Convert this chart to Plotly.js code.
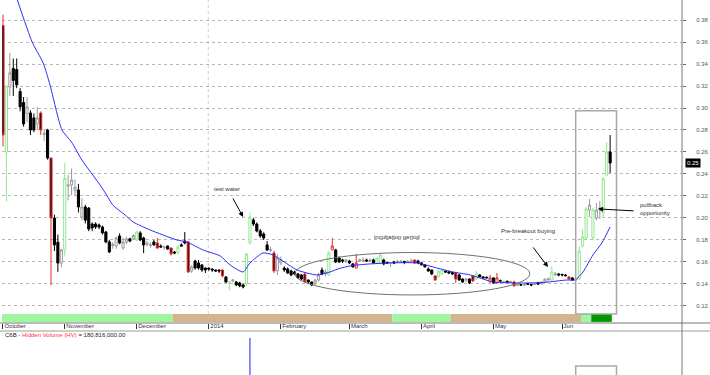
<!DOCTYPE html>
<html><head><meta charset="utf-8">
<script src="https://cdn.plot.ly/plotly-3.0.1.min.js"></script>
<style>html,body{margin:0;padding:0;background:#fff}#chart{width:710px;height:375px}</style>
</head><body><div id="chart"></div>
<script>
// ---- data (trading-day index 0 = first bar of October 2013) ----
const openP = [.375,.26,.319,.336,.335,.315,.305,.295,.2955,.291,.2855,.2955,.276,.28,.2545,.20,.178,.159,.171,.229,
.23,.225,.2255,.2009,.21,.209,.1945,.1945,.1936,.1918,.1873,.1782,.175,.1745,.1836,.1727,.178,.181,.181,.18,
.1864,.1818,.176,.175,.1782,.1773,.1745,.173,.1745,.1727,.1691,.1682,.1755,.1791,.1782,.1518,.1609,.1591,.1573,.1545,
.1545,.1536,.1527,.1527,.1527,.1464,.1409,.1427,.1418,.1409,.1391,.14,.1773,.1982,.1945,.1882,.1855,.1755,.1705,.1682,
.1518,.1591,.1545,.1536,.1518,.1509,.1491,.1482,.149,.1436,.1418,.1409,.1436,.1527,.1491,.1482,.1709,.1709,.1636,.1618,
.1609,.1609,.1582,.1545,.1609,.1609,.1618,.161,.1618,.1591,.1591,.1618,.1595,.1591,.16,.1595,.1595,.1605,.1595,.16,
.1618,.1609,.1591,.1573,.1536,.1527,.1473,.1464,.1491,.1518,.151,.1505,.15,.1482,.1445,.1436,.1445,.1473,.1445,.1482,
.1464,.146,.1418,.1455,.1409,.143,.1415,.1425,.1415,.1418,.1388,.1395,.1388,.1405,.1395,.1395,.1409,.14,.1418,.1436,
.1436,.1485,.1491,.1488,.1482,.1464,.1455,.1436,.1445,.1745,.1818,.2073,.182,.2,.2082,.2045,.2391,.26];
const highP = [.385,.32,.35,.345,.345,.318,.31,.31,.298,.295,.301,.297,.28,.281,.255,.203,.185,.172,.25,.239,
.245,.235,.231,.218,.212,.21,.196,.196,.195,.193,.188,.18,.178,.183,.186,.182,.183,.182,.185,.188,
.188,.183,.179,.178,.18,.1818,.176,.175,.175,.173,.17,.175,.177,.1873,.179,.157,.162,.1618,.158,.155,
.155,.154,.153,.153,.153,.147,.1418,.1445,.1427,.142,.14,.168,.205,.2,.196,.19,.187,.179,.174,.17,
.167,.165,.156,.155,.153,.152,.15,.149,.15,.144,.142,.1445,.15,.155,.153,.17,.182,.172,.165,.163,
.163,.162,.159,.1673,.163,.164,.163,.163,.163,.164,.1682,.163,.16,.16,.161,.162,.162,.161,.162,.163,
.162,.162,.16,.158,.155,.153,.148,.152,.153,.152,.152,.151,.151,.149,.145,.145,.145,.148,.152,.149,
.147,.147,.1482,.146,.15,.144,.143,.143,.143,.143,.14,.14,.14,.141,.14,.141,.142,.142,.145,.146,
.156,.151,.15,.149,.149,.147,.146,.145,.174,.19,.21,.2173,.209,.2136,.2155,.237,.2691,.2755];
const lowP = [.265,.215,.311,.311,.318,.297,.283,.287,.2755,.278,.28,.2755,.27,.253,.139,.17,.151,.155,.165,.216,
.221,.22,.205,.198,.195,.188,.188,.19,.19,.185,.177,.168,.172,.172,.176,.171,.176,.178,.18,.179,
.179,.168,.174,.173,.175,.172,.173,.171,.171,.166,.167,.167,.174,.176,.15,.15,.153,.153,.151,.15,
.152,.151,.151,.15,.146,.141,.134,.142,.138,.137,.136,.138,.176,.1927,.187,.182,.18,.17,.169,.15,
.1482,.157,.151,.149,.147,.148,.145,.143,.141,.14,.138,.1385,.142,.148,.147,.147,.1709,.159,.159,.159,
.159,.158,.155,.1545,.16,.16,.16,.16,.158,.158,.158,.157,.158,.1555,.158,.159,.159,.158,.159,.159,
.158,.158,.157,.155,.151,.148,.143,.146,.148,.15,.149,.148,.1409,.143,.141,.142,.14,.142,.144,.146,
.145,.145,.1418,.14,.1409,.142,.141,.141,.141,.138,.138,.1385,.138,.139,.138,.139,.139,.1395,.141,.143,
.143,.147,.147,.147,.147,.144,.143,.143,.144,.173,.18,.2009,.18,.198,.1991,.2009,.238,.2409];
const closeP = [.2755,.32,.332,.325,.321,.301,.2855,.301,.28,.28,.291,.28,.277,.2545,.20,.1755,.159,.171,.236,.23,
.2345,.228,.21,.21,.198,.19,.1909,.1918,.1918,.1864,.1782,.1691,.176,.1818,.1773,.1782,.181,.179,.184,.1873,
.18,.1755,.177,.1755,.1755,.1727,.1736,.1735,.1718,.1673,.1682,.1736,.1745,.1773,.1509,.1555,.1545,.1545,.1527,.1527,
.1536,.1527,.1518,.1518,.1473,.1418,.1418,.1436,.1391,.1382,.1373,.1673,.2009,.1945,.1882,.1836,.1818,.1709,.1712,.1518,
.1636,.1618,.1527,.15,.1482,.1491,.1455,.1445,.142,.1418,.1391,.1436,.1482,.1491,.1509,.1682,.1745,.16,.16,.1609,
.1618,.1591,.1555,.1591,.1618,.1618,.1609,.1618,.1591,.1636,.1664,.1582,.1591,.1595,.159,.1605,.1605,.1595,.1605,.161,
.1591,.1591,.1573,.1555,.1518,.1491,.1436,.1518,.1527,.1509,.15,.1491,.1445,.1436,.1418,.1445,.1409,.1427,.1491,.1464,
.1455,.1455,.1455,.1409,.1455,.1427,.142,.1418,.142,.1382,.1393,.139,.1393,.1398,.1391,.14,.14,.1418,.1445,.1445,
.1509,.149,.1482,.1482,.1475,.1445,.1436,.1445,.17,.1827,.2082,.2118,.2073,.2073,.2091,.2355,.26,.25];
// colour class of each bar as drawn: K black, W grey hollow, G green hollow, R red, RH red hollow
const candleClass = ('R G W K K K K W K K W R W K R K K W G W W W K W K K K K K K K K W W K W W K W G ' +
'K K W W K R K W K R K G K K R W K K K K K K K K R K G W K K K G G K K K K K W R ' +
'W W K K K K K K R K K W W K W G RH K K K W K K RH W W K W K G G K K W K W W K W W ' +
'R K K K K K R G G K K K R K K W K R G K K K RH K RH K W K W R W K W K K W K W W W ' +
'G W K K K R K W G G G W G W W G G K').split(' ');

const maDay = [4, 8.5, 11.7, 13.7, 17.2, 20, 23, 28.3, 30.2, 32, 35.6, 37.9, 42.9, 50.7, 53.6, 58.3, 63.3, 66.2, 70, 72,
  75.8, 78.7, 82, 85.7, 91.5, 95.3, 98, 101.2, 106, 112.8, 120.7, 126.5, 131, 136.2, 142.9, 148, 152.8, 158, 164.4, 166.8,
  169.1, 172, 174.6, 177];
const maValue = [0.40, 0.36, 0.341, 0.321, 0.28, 0.269, 0.2527, 0.23, 0.2209, 0.2118, 0.2027, 0.1964, 0.1891, 0.18, 0.1782,
  0.1709, 0.1655, 0.1573, 0.1509, 0.1591, 0.1682, 0.1664, 0.16, 0.1527, 0.1482, 0.1509, 0.154, 0.1564, 0.158, 0.1591,
  0.1591, 0.1545, 0.151, 0.1482, 0.1418, 0.141, 0.1409, 0.1415, 0.1436, 0.1436, 0.1509, 0.1664, 0.1773, 0.1918];

const monthTickDay = [0, 18, 39, 60, 81, 101, 122, 143, 163];
const monthTickLabel = ['October', 'November', 'December', '2014', 'February', 'March', 'April', 'May', 'Jun'];
const priceTicks = [0.12, 0.14, 0.16, 0.18, 0.20, 0.22, 0.24, 0.26, 0.28, 0.30, 0.32, 0.34, 0.36, 0.38];
const lastPrice = 0.25;

const hvDay = [72];
const hvValue = [180816000];

const bandStart = [-0.5, 49.5, 113.5, 130.5, 168.5, 171.5];
const bandEnd = [49.5, 113.5, 130.5, 168.5, 171.5, 177.5];
const bandColor = ['#9ef79e', '#d4b48e', '#9ef79e', '#d4b48e', '#9ef79e', '#009a00'];

// ---- build ----
const days = openP.map((_, i) => i);
const styles = {
  K:  {line: '#000000', fill: '#000000'},
  W:  {line: '#9a9a9a', fill: '#ffffff'},
  G:  {line: '#8fe88f', fill: '#ffffff'},
  R:  {line: '#e52b2b', fill: '#111111'},
  RH: {line: '#e52b2b', fill: '#ffffff'}
};
const traces = [];
Object.keys(styles).forEach(k => {
  const pick = arr => arr.map((v, i) => candleClass[i] === k ? v : null);
  const s = styles[k];
  traces.push({
    type: 'candlestick', x: days,
    open: pick(openP), high: pick(highP), low: pick(lowP), close: pick(closeP),
    increasing: {line: {color: s.line, width: 1}, fillcolor: s.fill},
    decreasing: {line: {color: s.line, width: 1}, fillcolor: s.fill},
    whiskerwidth: 0, hoverinfo: 'skip', showlegend: false
  });
});
traces.push({type: 'scatter', mode: 'lines', x: maDay, y: maValue,
  line: {color: '#2b2bff', width: 1, shape: 'spline', smoothing: 0.6}, hoverinfo: 'skip', showlegend: false});
traces.push({type: 'bar', x: hvDay, y: hvValue, yaxis: 'y2', width: 0.3,
  marker: {color: '#2020ff', line: {width: 0}}, hoverinfo: 'skip', showlegend: false});

const FONT = 'Liberation Sans, Arial, sans-serif';
const pxY = 375;
const priceBottom = (pxY - 323) / pxY;
const volTop = (pxY - 331) / pxY;

const shapes = [];
bandStart.forEach((s, i) => shapes.push({type: 'rect', xref: 'x', yref: 'y', x0: s, x1: bandEnd[i],
  y0: 0.1055, y1: 0.1127, fillcolor: bandColor[i], line: {width: 0}, layer: 'below'}));
shapes.push({type: 'line', xref: 'x', yref: 'paper', x0: 59.85, x1: 59.85, y0: (pxY-314)/pxY, y1: 1,
  line: {color: '#cccccc', width: 1, dash: 'dot'}, layer: 'below'});
shapes.push({type: 'circle', xref: 'x', yref: 'y', x0: 85.1, x1: 153.6, y0: 0.130, y1: 0.1686,
  line: {color: '#707070', width: 1}});
shapes.push({type: 'rect', xref: 'x', yref: 'y', x0: 166.97, x1: 178.86, y0: 0.1127, y1: 0.2975,
  line: {color: '#a8a8a8', width: 1.5}});
shapes.push({type: 'rect', xref: 'x', yref: 'paper', x0: 166.97, x1: 178.86, y0: -0.05, y1: (pxY-366)/pxY,
  line: {color: '#a8a8a8', width: 1.5}});
shapes.push({type: 'line', xref: 'paper', yref: 'paper', x0: -0.01, x1: 1.05, y0: priceBottom, y1: priceBottom,
  line: {color: '#777777', width: 1}});
shapes.push({type: 'line', xref: 'paper', yref: 'paper', x0: -0.01, x1: 1.05, y0: volTop, y1: volTop,
  line: {color: '#9a9a9a', width: 1}});
shapes.push({type: 'line', xref: 'paper', yref: 'paper', x0: 1, x1: 1, y0: -0.01, y1: 1.01,
  line: {color: '#777777', width: 1}});

const tf = {family: FONT, size: 6, color: '#333333'};
const annotations = [
  {xref: 'x', yref: 'y', x: 65.3, y: 0.2264, text: 'test water', showarrow: false, font: tf},
  {xref: 'x', yref: 'y', x: 70, y: 0.2009, ax: -11, ay: -20, text: '', showarrow: true,
   arrowhead: 2, arrowsize: 1, arrowwidth: 1, arrowcolor: '#000', standoff: 0},
  {xref: 'x', yref: 'y', x: 114.9, y: 0.1827, text: 'incubation period', showarrow: false, font: tf},
  {xref: 'x', yref: 'y', x: 153.1, y: 0.1882, text: 'Pre-breakout buying', showarrow: false, font: tf},
  {xref: 'x', yref: 'y', x: 158.9, y: 0.1555, ax: -16, ay: -21, text: '', showarrow: true,
   arrowhead: 2, arrowsize: 1, arrowwidth: 1, arrowcolor: '#000', standoff: 0},
  {xref: 'x', yref: 'y', x: 185.1, y: 0.2082, xanchor: 'left', align: 'left',
   text: 'pullback<br>opportunity', showarrow: false, font: tf},
  {xref: 'x', yref: 'y', x: 173.5, y: 0.2082, ax: 37, ay: 2, text: '', showarrow: true,
   arrowhead: 2, arrowsize: 1, arrowwidth: 1, arrowcolor: '#000', standoff: 0},
  {xref: 'paper', yref: 'y', x: 1.005, y: lastPrice, xanchor: 'left', text: lastPrice.toFixed(2),
   showarrow: false, bgcolor: '#000000', borderpad: 1, font: {family: FONT, size: 6, color: '#ffffff'}},
  {xref: 'paper', yref: 'paper', x: 0.0015, y: (pxY-335)/pxY, xanchor: 'left', yanchor: 'middle', showarrow: false,
   text: 'C6B - <span style="color:#ff3333">Hidden Volume (HV)</span> = ' +
     hvValue[0].toLocaleString('en-US', {minimumFractionDigits: 2}),
   font: {family: FONT, size: 6, color: '#222222'}}
];

const layout = {
  width: 710, height: 375, margin: {l: 2, r: 28, t: 0, b: 0},
  paper_bgcolor: '#ffffff', plot_bgcolor: '#ffffff', showlegend: false,
  font: {family: FONT, size: 6, color: '#333'},
  boxgap: 0.12, boxmode: 'overlay',
  xaxis: {range: [-0.29, 197.96], rangeslider: {visible: false}, showgrid: false, zeroline: false,
    tickvals: monthTickDay, ticktext: monthTickLabel, ticks: 'outside', ticklen: 5, tickcolor: '#333',
    tickwidth: 1, ticklabelposition: 'outside right', ticklabelstandoff: -3, ticklabelshift: 1,
    tickfont: {family: FONT, size: 6, color: '#333'}, anchor: 'y', showline: false, fixedrange: true},
  yaxis: {domain: [priceBottom, 1], range: [0.1045, 0.3982], side: 'right', tickvals: priceTicks,
    tickformat: '.2f', ticks: 'outside', ticklen: 3, tickcolor: '#666', ticklabelstandoff: 9,
    tickfont: {family: FONT, size: 6, color: '#555'}, showgrid: true, gridcolor: '#b8b8b8', griddash: 'dot',
    gridwidth: 1, zeroline: false, showline: false, fixedrange: true},
  yaxis2: {domain: [0, volTop], range: [0, 215000000], visible: false, fixedrange: true},
  shapes: shapes, annotations: annotations
};
Plotly.newPlot('chart', traces, layout, {displayModeBar: false, staticPlot: true});
</script></body></html>
